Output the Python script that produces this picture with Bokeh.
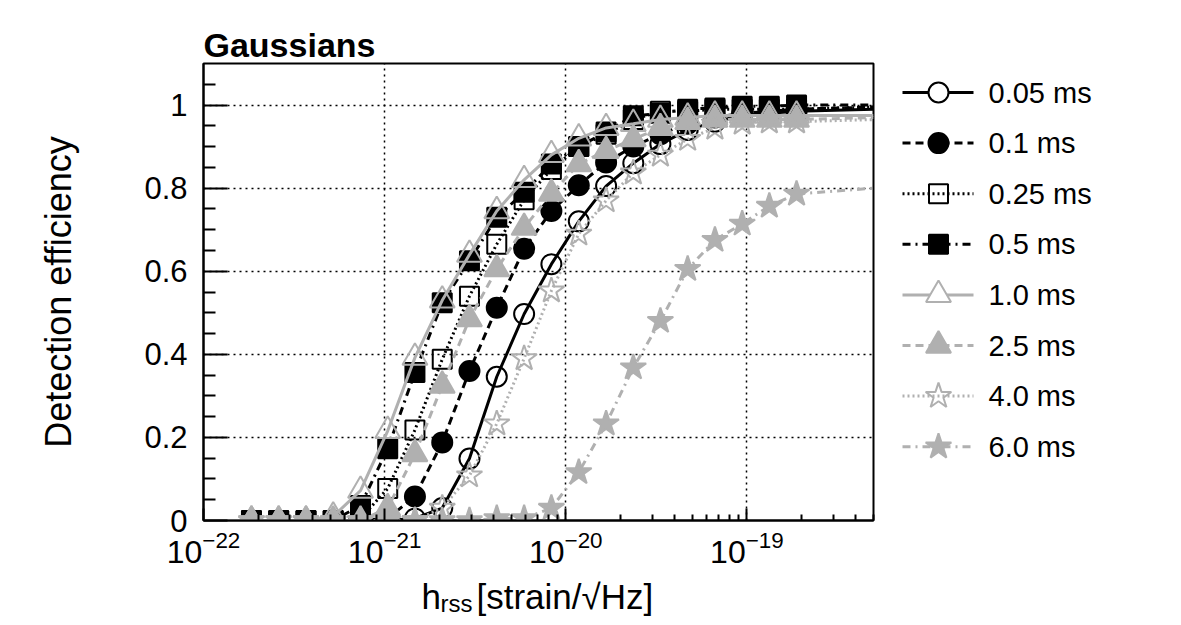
from bokeh.plotting import figure
from bokeh.models import Range1d, FixedTicker, NumeralTickFormatter
from bokeh.core.properties import value
from bokeh.layouts import row, column
from bokeh.embed import file_html
from bokeh.resources import INLINE

# hrss values of the injections (strain/sqrt(Hz))
hrss = [1.84e-22, 2.6e-22, 3.68e-22, 5.2e-22, 7.36e-22, 1.04e-21, 1.47e-21,
        2.08e-21, 2.94e-21, 4.16e-21, 5.89e-21, 8.33e-21, 1.18e-20, 1.67e-20,
        2.36e-20, 3.33e-20, 4.71e-20, 6.66e-20, 9.42e-20, 1.33e-19, 1.88e-19]

# detection efficiency per gaussian width
eff_005 = [0, 0, 0, 0, 0, 0, 0.005, 0.03, 0.149, 0.346, 0.497, 0.617, 0.72,
           0.805, 0.86, 0.906, 0.94, 0.96, 0.975, 0.98, 0.985]
eff_01 = [0, 0, 0, 0, 0, 0.005, 0.058, 0.188, 0.36, 0.512, 0.654, 0.745, 0.807,
          0.862, 0.9, 0.93, 0.955, 0.97, 0.98, 0.985, 0.99]
eff_025 = [0, 0, 0, 0, 0.005, 0.077, 0.218, 0.388, 0.54, 0.665, 0.772, 0.845, 0.9,
           0.93, 0.965, 0.985, 0.985, 0.99, 0.99, 0.99, 0.99]
eff_05 = [0, 0, 0, 0, 0.036, 0.173, 0.356, 0.524, 0.625, 0.73, 0.79, 0.858, 0.9,
          0.935, 0.974, 0.98, 0.99, 0.993, 0.997, 0.997, 1.0]
eff_10 = [0, 0, 0, 0.01, 0.072, 0.216, 0.392, 0.53, 0.64, 0.745, 0.82, 0.88, 0.92,
          0.945, 0.955, 0.965, 0.97, 0.975, 0.975, 0.975, 0.975]
eff_25 = [0, 0, 0, 0, 0, 0.03, 0.16, 0.325, 0.485, 0.605, 0.705, 0.787, 0.858,
          0.89, 0.918, 0.945, 0.96, 0.965, 0.965, 0.965, 0.965]
eff_40 = [0, 0, 0, 0, 0, 0, 0, 0.03, 0.108, 0.233, 0.39, 0.553, 0.69, 0.77, 0.837,
          0.88, 0.918, 0.945, 0.957, 0.96, 0.96]
eff_60 = [0, 0, 0, 0, 0, 0, 0, 0, 0, 0.005, 0.005, 0.03, 0.116, 0.233, 0.368, 0.48,
          0.605, 0.675, 0.714, 0.757, 0.786]

# level of each fitted curve at the two ends of the axis
fit_low = [0, 0, 0, 0, 0, 0, 0, 0]
fit_high = [0.99, 0.995, 0.995, 1.0, 0.975, 0.97, 0.965, 0.80]

labels = ["0.05 ms", "0.1 ms", "0.25 ms", "0.5 ms", "1.0 ms", "2.5 ms", "4.0 ms", "6.0 ms"]
effs = [eff_005, eff_01, eff_025, eff_05, eff_10, eff_25, eff_40, eff_60]

x_lo, x_hi = 1e-22, 5e-19
y_ticks = [0, 0.2, 0.4, 0.6, 0.8, 1.0]
y_minor = [0.05, 0.1, 0.15, 0.25, 0.3, 0.35, 0.45, 0.5, 0.55, 0.65, 0.7, 0.75,
           0.85, 0.9, 0.95, 1.05]
x_ticks = [1e-22, 1e-21, 1e-20, 1e-19]
x_minor = [m * 10.0 ** e for e in (-22, -21, -20, -19) for m in range(2, 10)]

BLACK = "#000000"
GRAY = "#b0b0b0"
FONT = "Liberation Sans"

styles = [
    dict(color=BLACK, dash="solid", marker="circle", size=20, fill=False, key="white"),
    dict(color=BLACK, dash="8 5", marker="circle", size=20, fill=True, key=None),
    dict(color=BLACK, dash="2 3", marker="square", size=19, fill=False, key=None),
    dict(color=BLACK, dash="8 5 2 5", marker="square", size=19, fill=True, key=None),
    dict(color=GRAY, dash="solid", marker="triangle", size=25, fill=False, key="white"),
    dict(color=GRAY, dash="8 5", marker="triangle", size=25, fill=True, key=None),
    dict(color=GRAY, dash="2 3", marker="star", size=27, fill=False, key=None),
    dict(color=GRAY, dash="8 5 2 5", marker="star", size=27, fill=True, key=None),
]

W_MAIN, H_MAIN = 885, 572
W_ALL, H_ALL = 1181, 625
W_LEG = W_ALL - W_MAIN
FRAME_TOP, FRAME_BOT = 63, 520

p = figure(width=W_MAIN, height=H_MAIN, x_axis_type="log",
           x_range=Range1d(x_lo, x_hi), y_range=Range1d(0, 1.1),
           output_backend="svg", toolbar_location=None,
           min_border_left=203, min_border_right=12,
           min_border_top=FRAME_TOP, min_border_bottom=H_MAIN - FRAME_BOT)

p.title.text = "Gaussians"
p.title.text_font = FONT
p.title.text_font_style = "bold"
p.title.text_font_size = "34px"
p.title.text_color = "black"
p.title.align = "left"
p.title.standoff = 0

p.outline_line_color = "black"
p.outline_line_width = 2
p.outline_line_alpha = 1

for ax in (p.xaxis[0], p.yaxis[0]):
    ax.axis_line_width = 2
    ax.major_tick_line_width = 2
    ax.minor_tick_line_width = 2
    ax.major_tick_out = 0
    ax.minor_tick_out = 0
    ax.major_label_text_font = FONT
    ax.major_label_text_font_size = "31px"
    ax.major_label_text_color = "black"
    ax.axis_label_text_font = FONT
    ax.axis_label_text_font_style = "normal"
    ax.axis_label_text_color = "black"

p.xaxis[0].ticker = FixedTicker(ticks=x_ticks, minor_ticks=x_minor)
p.xaxis[0].major_tick_in = 12
p.xaxis[0].minor_tick_in = 6
p.xaxis[0].major_label_standoff = 10
p.xaxis[0].major_label_text_font_size = "32px"

p.yaxis[0].ticker = FixedTicker(ticks=y_ticks, minor_ticks=y_minor)
p.yaxis[0].formatter = NumeralTickFormatter(format="0.[0]")
p.yaxis[0].major_tick_in = 24
p.yaxis[0].minor_tick_in = 12
p.yaxis[0].major_label_standoff = 16
p.yaxis[0].axis_label = "Detection efficiency"
p.yaxis[0].axis_label_text_font_size = "36px"
p.yaxis[0].axis_label_standoff = 62

for g in (p.xgrid[0], p.ygrid[0]):
    g.grid_line_color = "black"
    g.grid_line_dash = "2 4"
    g.grid_line_width = 1.5
    g.grid_line_alpha = 1

for eff, lo, hi, st in zip(effs, fit_low, fit_high, styles):
    lx = [x_lo] + hrss + [x_hi]
    ly = [lo] + eff + [hi]
    p.line(lx, ly, line_color=st["color"], line_width=3, line_dash=st["dash"])
    p.scatter(hrss, eff, marker=st["marker"], size=st["size"],
              line_color=st["color"], line_width=2,
              fill_color=st["color"] if st["fill"] else None)


def blank(w, h, xr, yr):
    f = figure(width=w, height=h, x_range=xr, y_range=yr,
               output_backend="svg", toolbar_location=None,
               min_border_left=0, min_border_right=0,
               min_border_top=0, min_border_bottom=0,
               x_axis_location=None, y_axis_location=None,
               outline_line_color=None)
    f.title.visible = False
    f.grid.visible = False
    return f


# legend panel: its frame lines up with the main frame, y in page pixels (downwards)
lg = blank(W_LEG, H_MAIN, Range1d(W_MAIN, W_ALL), Range1d(FRAME_BOT, FRAME_TOP))
row_top, row_step = 92, 50.6
for i, (lab, st) in enumerate(zip(labels, styles)):
    yy = row_top + i * row_step
    lg.line([902, 973], [yy, yy], line_color=st["color"], line_width=3, line_dash=st["dash"])
    lg.scatter([938], [yy], marker=st["marker"], size=st["size"],
               line_color=st["color"], line_width=2,
               fill_color=st["color"] if st["fill"] else st["key"])
    lg.text([988], [yy], text=[lab], text_baseline="middle", text_align="left",
            text_font=value(FONT), text_font_size="29px", text_color="black")

# x axis title with subscript, y measured down from the top of this strip
H_XL = H_ALL - H_MAIN
xl = blank(W_ALL, H_XL, Range1d(0, W_ALL), Range1d(H_XL, 0))
xl.text([421], [24], text=["h"], text_baseline="alphabetic",
        text_font=value(FONT), text_font_size="35px", text_color="black")
xl.text([440], [31], text=["rss"], text_baseline="alphabetic",
        text_font=value(FONT), text_font_size="24px", text_color="black")
xl.text([476], [24], text=["[strain/\u221aHz]"], text_baseline="alphabetic",
        text_font=value(FONT), text_font_size="35px", text_color="black")

layout = column(row(p, lg), xl)
open("out.html", "w").write(file_html(layout, INLINE))
